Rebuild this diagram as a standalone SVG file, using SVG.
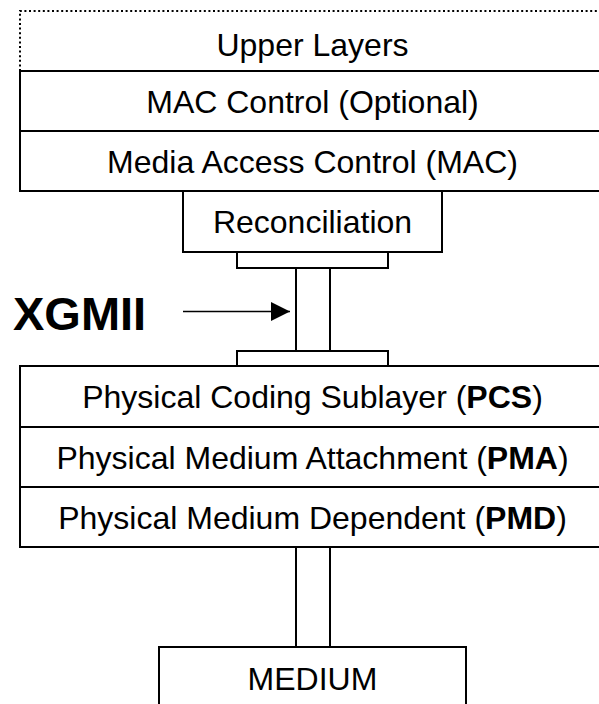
<svg xmlns="http://www.w3.org/2000/svg" width="599" height="704" viewBox="0 0 599 704">
  <style>
    .box { fill: #fff; stroke: #000; stroke-width: 2; }
    .dot { fill: none; stroke: #000; stroke-width: 2; stroke-dasharray: 2 2.6; }
    .lbl { font-family: "Liberation Sans", Arial, sans-serif; font-size: 32px; fill: #000; text-anchor: middle; }
    .b { font-weight: bold; }
    .big { font-family: "Liberation Sans", Arial, sans-serif; font-size: 47px; font-weight: bold; fill: #000; }
  </style>
  <defs>
    <marker id="arrowhead" markerWidth="20" markerHeight="20" refX="19" refY="9.5" orient="auto" markerUnits="userSpaceOnUse">
      <polygon points="0,0 19,9.5 0,19" fill="#000"/>
    </marker>
  </defs>
  <rect width="599" height="704" fill="#fff"/>

  <!-- upper layers: open dotted frame -->
  <g id="upper-layers">
    <path class="dot" d="M20,71 V11 H605"/>
    <text class="lbl" x="312.5" y="56">Upper Layers</text>
  </g>

  <g id="mac-control">
    <rect class="box" x="20" y="71" width="590" height="60"/>
    <text class="lbl" x="312.5" y="112.5">MAC Control (Optional)</text>
  </g>

  <g id="mac">
    <rect class="box" x="20" y="131" width="590" height="60"/>
    <text class="lbl" x="312.5" y="172.5">Media Access Control (MAC)</text>
  </g>

  <g id="reconciliation">
    <rect class="box" x="183" y="191" width="259" height="61"/>
    <text class="lbl" x="312.5" y="233">Reconciliation</text>
  </g>

  <g id="pcs">
    <rect class="box" x="20" y="366" width="590" height="61"/>
    <text class="lbl" x="312.5" y="408">Physical Coding Sublayer (<tspan class="b">PCS</tspan>)</text>
  </g>

  <g id="pma">
    <rect class="box" x="20" y="427" width="590" height="60"/>
    <text class="lbl" x="312.5" y="468.5">Physical Medium Attachment (<tspan class="b">PMA</tspan>)</text>
  </g>

  <g id="pmd">
    <rect class="box" x="20" y="487" width="590" height="60"/>
    <text class="lbl" x="312.5" y="528.5">Physical Medium Dependent (<tspan class="b">PMD</tspan>)</text>
  </g>

  <g id="medium">
    <rect class="box" x="159" y="647" width="307" height="70"/>
    <text class="lbl" x="312.5" y="690">MEDIUM</text>
  </g>

  <g id="xgmii-label">
    <text class="big" x="13" y="330">XGMII</text>
  </g>

  <!-- interface bus between reconciliation and PCS, and PMD to medium -->
  <g id="connectors">
    <rect class="box" x="237" y="252" width="151" height="16"/>
    <rect class="box" x="296" y="268" width="34" height="83"/>
    <rect class="box" x="237" y="351" width="151" height="15"/>
    <rect class="box" x="296" y="547" width="34" height="100"/>
    <line x1="183" y1="311.5" x2="290" y2="311.5" stroke="#000" stroke-width="1.5" marker-end="url(#arrowhead)"/>
  </g>
</svg>
